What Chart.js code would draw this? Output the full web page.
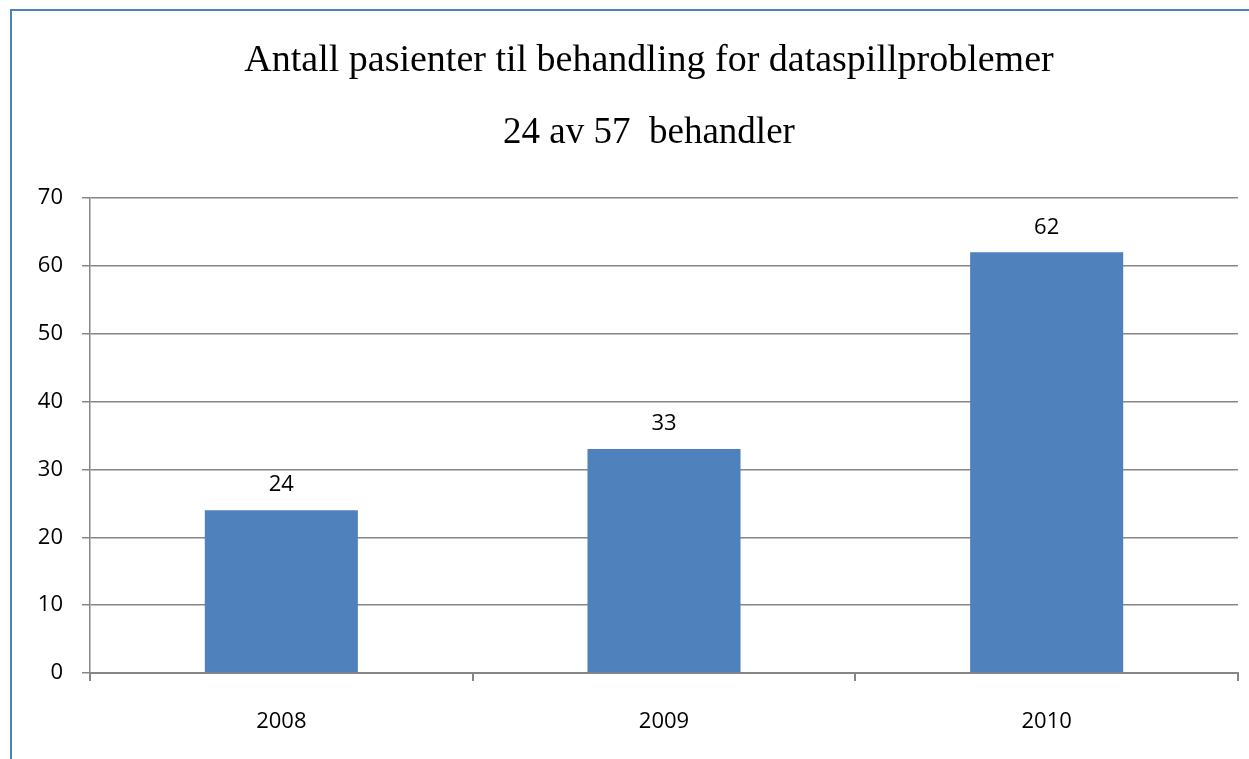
<!DOCTYPE html>
<html>
<head>
<meta charset="utf-8">
<script src="https://cdn.jsdelivr.net/npm/chart.js@4/dist/chart.umd.min.js"></script>
<style>
  html, body { margin: 0; padding: 0; background: #fff; overflow: hidden; }
  #frame {
    position: absolute; left: 10px; top: 9px;
    width: 1300px; height: 800px;
    border: 2px solid #4F81BD;
  }
  #wrap { position: absolute; left: 0; top: 0; width: 1274px; height: 748px; }
</style>
</head>
<body>
<div id="frame"><div id="wrap"><canvas id="c"></canvas></div></div>
<script>
// Patients in treatment for gaming problems, per year
const years = ['2008', '2009', '2010'];
const patients = [24, 33, 62];
const titleText = 'Antall pasienter til behandling for dataspillproblemer';
const subtitleText = '24 av 57  behandler';

const axisGrey = '#868686';
const barBlue = '#4F81BD';
const labelFont = { family: "'Open Sans', 'Noto Sans', sans-serif", size: 22 };
const serif = "'Liberation Serif', 'Times New Roman', serif";

// Writes each bar's value above it
const valueLabels = {
  id: 'valueLabels',
  afterDatasetsDraw(chart) {
    const ctx = chart.ctx;
    const meta = chart.getDatasetMeta(0);
    ctx.save();
    ctx.font = `${labelFont.size}px ${labelFont.family}`;
    ctx.fillStyle = '#000';
    ctx.textAlign = 'center';
    ctx.textBaseline = 'middle';
    meta.data.forEach((bar, i) => {
      ctx.fillText(String(chart.data.datasets[0].data[i]), bar.x, bar.y - 25);
    });
    ctx.restore();
  }
};

new Chart(document.getElementById('c'), {
  type: 'bar',
  data: {
    labels: years,
    datasets: [{
      data: patients,
      backgroundColor: barBlue,
      borderWidth: 0,
      categoryPercentage: 1,
      barPercentage: 0.4
    }]
  },
  options: {
    responsive: true,
    maintainAspectRatio: false,
    animation: false,
    events: [],
    layout: { padding: 0 },
    plugins: {
      legend: { display: false },
      tooltip: { enabled: false },
      title: {
        display: true,
        text: titleText,
        color: '#000',
        font: { family: serif, size: 38, weight: 'normal', lineHeight: 1.2 },
        padding: { top: 27, bottom: 0 }
      },
      subtitle: {
        display: true,
        text: subtitleText,
        color: '#000',
        font: { family: serif, size: 37, weight: 'normal', lineHeight: 1.2 },
        padding: { top: 27, bottom: 43 }
      }
    },
    scales: {
      x: {
        offset: true,
        afterFit(scale) { scale.height = 86; },
        grid: {
          offset: true,
          drawOnChartArea: false,
          drawTicks: true,
          tickLength: 8,
          color: axisGrey,
          lineWidth: 2
        },
        border: { display: true, color: axisGrey, width: 2 },
        ticks: { color: '#000', font: labelFont, padding: 28 }
      },
      y: {
        min: 0,
        max: 70,
        afterFit(scale) { scale.width = 78; },
        ticks: { stepSize: 10, color: '#000', font: labelFont, padding: 19 },
        grid: { color: axisGrey, lineWidth: 1.5, tickLength: 8 },
        border: { display: true, color: axisGrey, width: 1.5 }
      },
      // empty right-hand margin beside the plot
      yRight: {
        position: 'right',
        min: 0,
        max: 70,
        afterFit(scale) { scale.width = 48; },
        ticks: { display: false },
        grid: { display: false, drawOnChartArea: false },
        border: { display: false }
      }
    }
  },
  plugins: [valueLabels]
});
</script>
</body>
</html>
